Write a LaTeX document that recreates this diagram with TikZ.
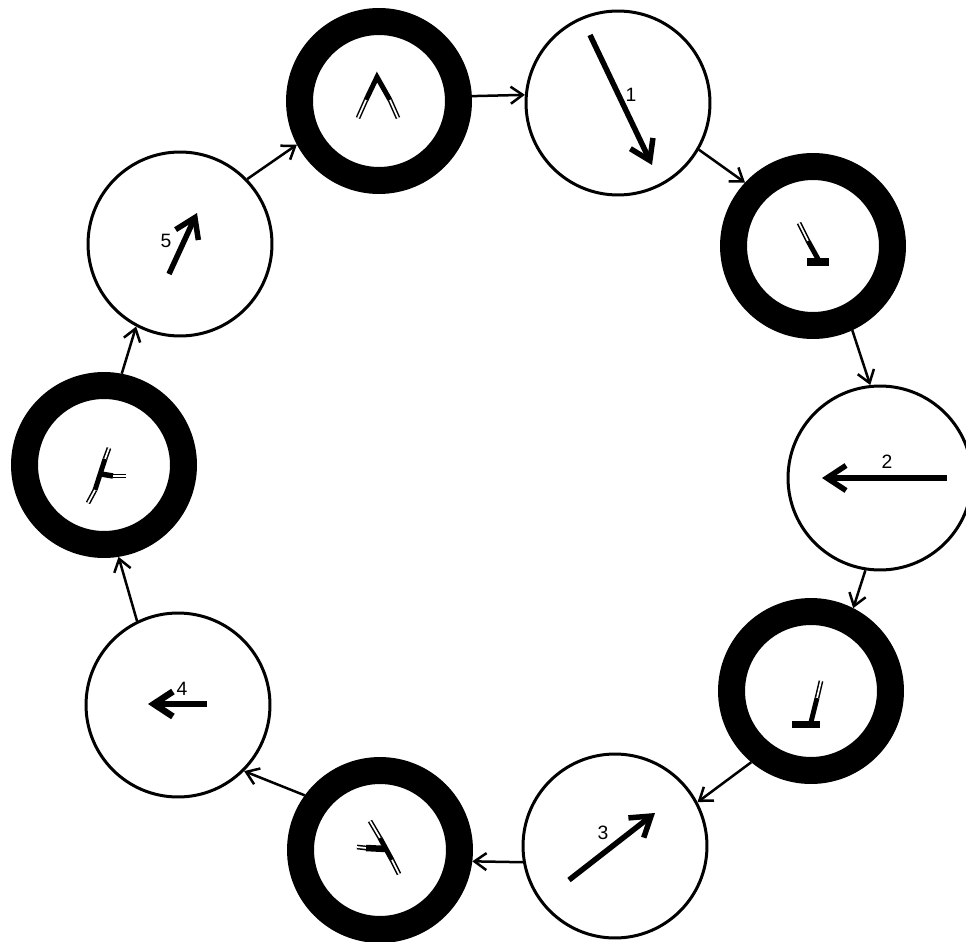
\documentclass[tikz,border=0pt]{standalone}
\usepackage{fontspec}
\setmainfont{Liberation Sans}
\usetikzlibrary{arrows.meta}
\tikzset{
  thin ring/.style={circle, draw, line width=0.06cm, minimum size=3.68cm, inner sep=0pt},
  thick ring/.style={circle, draw, line width=0.54cm, minimum size=3.18cm, inner sep=0pt},
  conn/.style={line width=0.05cm, -{Straight Barb[length=0.24cm,width=0.34cm]}},
  bigarrow/.style={line width=0.11cm, -{Straight Barb[length=0.38cm,width=0.5cm]}},
  thk/.style={line width=0.1cm},
  dbl/.style={double, double distance=0.035cm, line width=0.03cm},
  digit/.style={font=\fontsize{11pt}{13pt}\selectfont, inner sep=0pt}
}
\begin{document}
\begin{tikzpicture}[x=0.02cm, y=-0.02cm]
\useasboundingbox (0,0) rectangle (966,942);
% circles
\node[thick ring] (t)  at (379,101) {};
\node[thin ring]  (c1) at (618,103) {};
\node[thick ring] (ru) at (813,246) {};
\node[thin ring]  (c2) at (880,478) {};
\node[thick ring] (rl) at (811,691) {};
\node[thin ring]  (c3) at (615,846) {};
\node[thick ring] (b)  at (380,850) {};
\node[thin ring]  (c4) at (178,705) {};
\node[thick ring] (l)  at (104,465) {};
\node[thin ring]  (c5) at (180,244) {};
% connectors
\draw[conn] (t.3.7) -- (c1.175);
\draw[conn] (c1.-30) -- (ru.137);
\draw[conn] (ru.-65) -- (c2.96);
\draw[conn] (c2.-99) -- (rl.63);
\draw[conn] (rl.-130) -- (c3.28);
\draw[conn] (c3.-170) -- (b.-7);
\draw[conn] (b.144) -- (c4.-45);
\draw[conn] (c4.116) -- (l.-81);
\draw[conn] (l.79) -- (c5.-118);
\draw[conn] (c5.44) -- (t.-152);
% arrows in thin circles
\draw[bigarrow] (590,35) -- (652,165);
\node[digit] (l1) at (631,95) {1};
\draw[bigarrow] (947,478) -- (822,478);
\node[digit] (l2) at (887,462) {2};
\draw[bigarrow] (569,880) -- (655,813);
\node[digit] (l3) at (603,833) {3};
\draw[bigarrow, line width=0.13cm] (207,704) -- (148,704);
\node[digit] (l4) at (182,689) {4};
\draw[bigarrow] (169,274) -- (197,213);
\node[digit] (l5) at (166,241) {5};
% glyphs in thick rings
% top
\draw[thk, line join=miter] (366,100) -- (377,77) -- (390,100);
\draw[dbl] (366,100) -- (358,118);
\draw[dbl] (390,100) -- (398,118);
% right upper
\draw[dbl] (799,223) -- (808,241);
\draw[thk] (808,241) -- (818,259);
\fill (807,258) rectangle (829,266);
% right lower
\draw[dbl] (821,681) -- (817,698);
\draw[thk] (817,698) -- (811,722);
\fill (792,721) rectangle (820,728);
% bottom
\draw[dbl] (370,821) -- (380,838);
\draw[thk] (380,838) -- (392,860);
\draw[dbl] (392,860) -- (399,874);
\draw[dbl] (357,847) -- (366,848);
\draw[line width=0.13cm] (366,848) -- (386,849);
% left
\draw[dbl] (109,448) -- (105,459);
\draw[thk] (105,459) -- (95,490);
\draw[dbl] (95,490) -- (88,503);
\draw[line width=0.11cm] (101,474) -- (113,476);
\draw[dbl] (113,476) -- (126,476);
\end{tikzpicture}
\end{document}
